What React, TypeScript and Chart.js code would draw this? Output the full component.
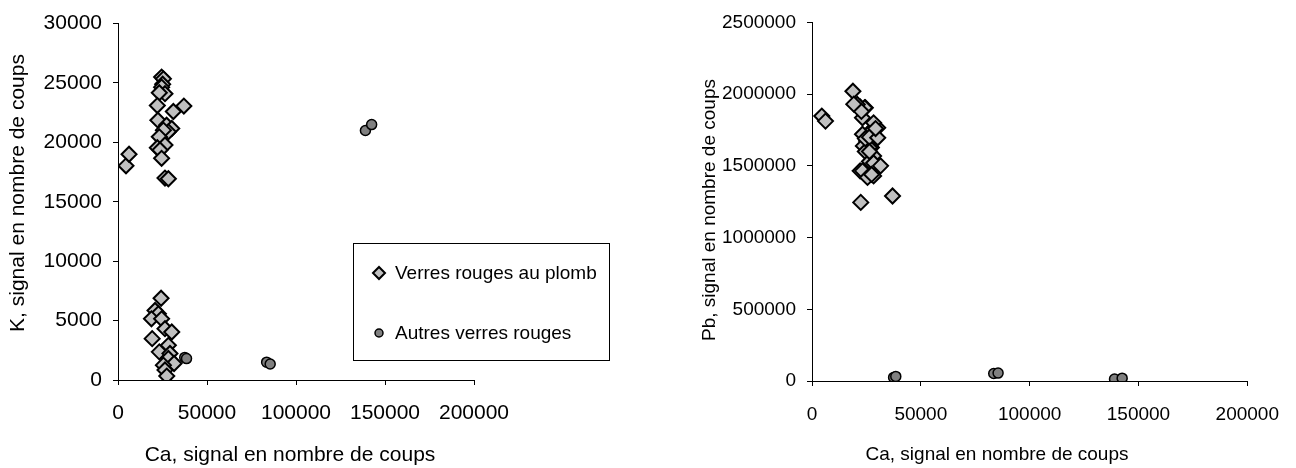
import React, { useEffect, useRef } from "react";
import { Chart, registerables } from "chart.js";

Chart.register(...registerables);

// Axis tick values
const caTicks = [0, 50000, 100000, 150000, 200000];
const kTicks = [0, 5000, 10000, 15000, 20000, 25000, 30000];
const pbTicks = [0, 500000, 1000000, 1500000, 2000000, 2500000];

// Verres rouges au plomb: Ca, K and Pb signals (same samples in both plots)
const leadCa = [
  24500, 25500, 25100, 24500, 26400, 23200, 22100, 31100, 37000, 22400,
  27300, 30200, 28300, 25500, 23200, 26400, 22100, 23600, 24500, 26400,
  28300, 4500, 6200, 24200, 20800, 22700, 18800, 24500, 26400, 30200,
  19200, 28300, 23200, 29200, 28300, 31500, 25500, 26400, 27400,
];
const leadK = [
  25500, 25350, 24900, 24650, 24100, 24180, 23100, 22600, 23060, 21870,
  21450, 21170, 20890, 21030, 20470, 19780, 19550, 19360, 18660, 17000,
  16940, 18030, 19000, 6880, 5850, 5570, 5150, 5150, 4320, 4040,
  3480, 2920, 2370, 2230, 1810, 1390, 1250, 840, 330,
];
const leadPb = [
  1905000, 1720000, 1673000, 1450000, 1731000, 1835000, 1910000, 1500000, 1290000, 1245000,
  1627000, 1766000, 1569000, 1639000, 1720000, 1627000, 1465000, 1639000, 1600000, 1530000,
  1430000, 1847000, 1812000, 1905000, 1928000, 1880000, 2020000, 1690000, 1700000, 1696000,
  1930000, 1800000, 1465000, 1760000, 1520000, 1500000, 1419000, 1600000, 1440000,
];

// Autres verres rouges
const otherCa = [37500, 38500, 83500, 85500, 139000, 142500];
const otherK = [1900, 1800, 1500, 1350, 21000, 21500];
const otherPb = [25000, 32000, 52000, 55000, 14000, 20000];

const FONT = '"Liberation Sans", Arial, Helvetica, sans-serif';
const LEAD_LABEL = "Verres rouges au plomb";
const OTHER_LABEL = "Autres verres rouges";
const X_TITLE = "Ca, signal en nombre de coups";

const leadStyle = {
  pointStyle: "rectRot",
  pointRadius: 7.5,
  pointHoverRadius: 7.5,
  pointBackgroundColor: "#C0C0C0",
  pointBorderColor: "#000000",
  pointBorderWidth: 2,
};
const otherStyle = {
  pointStyle: "circle",
  pointRadius: 5,
  pointHoverRadius: 5,
  pointBackgroundColor: "#808080",
  pointBorderColor: "#000000",
  pointBorderWidth: 1.5,
};

// Draws the rotated y title and the x title beneath the axis
const axisTitlesPlugin = {
  id: "axisTitles",
  afterDraw(chart: any, _args: any, opts: any) {
    const ctx = chart.ctx;
    ctx.save();
    ctx.fillStyle = "#000";
    ctx.textAlign = "center";
    ctx.textBaseline = "alphabetic";
    ctx.font = `${opts.xSize}px ${FONT}`;
    ctx.fillText(opts.xText, opts.xCenter, opts.xBaseline);
    ctx.font = `${opts.ySize}px ${FONT}`;
    ctx.translate(opts.yCenterX, opts.yCenterY);
    ctx.rotate(-Math.PI / 2);
    ctx.textBaseline = "middle";
    ctx.fillText(opts.yText, 0, 0);
    ctx.restore();
  },
};

// Boxed legend placed inside the plot area
const boxLegendPlugin = {
  id: "boxLegend",
  afterDraw(chart: any, _args: any, opts: any) {
    if (!opts || !opts.show) return;
    const ctx = chart.ctx;
    const { left, top, width, height } = opts;
    ctx.save();
    ctx.fillStyle = "#fff";
    ctx.fillRect(left, top, width, height);
    ctx.strokeStyle = "#000";
    ctx.lineWidth = 1;
    ctx.strokeRect(left + 0.5, top + 0.5, width, height);
    ctx.font = `19px ${FONT}`;
    ctx.textBaseline = "middle";
    ctx.textAlign = "left";
    chart.data.datasets.forEach((ds: any, i: number) => {
      const cy = top + opts.firstRow + i * opts.rowGap;
      const cx = left + 26;
      ctx.fillStyle = ds.pointBackgroundColor;
      ctx.strokeStyle = ds.pointBorderColor;
      ctx.lineWidth = ds.pointStyle === "rectRot" ? 2 : 1.5;
      ctx.beginPath();
      if (ds.pointStyle === "rectRot") {
        const r = 6;
        ctx.moveTo(cx - r, cy);
        ctx.lineTo(cx, cy - r);
        ctx.lineTo(cx + r, cy);
        ctx.lineTo(cx, cy + r);
        ctx.closePath();
      } else {
        ctx.arc(cx, cy, 4, 0, Math.PI * 2);
      }
      ctx.fill();
      ctx.stroke();
      ctx.fillStyle = "#000";
      ctx.fillText(ds.label, cx + 16, cy + 1);
    });
    ctx.restore();
  },
};

function makeScale(
  ticks: number[],
  max: number,
  isX: boolean,
  fitSize: number,
  pad: number,
  fontSize: number
) {
  return {
    type: "linear",
    min: 0,
    max,
    afterBuildTicks: (s: any) => {
      s.ticks = ticks.map((value) => ({ value }));
    },
    afterFit: (s: any) => {
      if (isX) s.height = fitSize;
      else s.width = fitSize;
    },
    ticks: {
      callback: (v: any) => String(v),
      color: "#000",
      font: { family: FONT, size: fontSize },
      padding: pad,
      maxRotation: 0,
      autoSkip: false,
    },
    grid: {
      display: true,
      drawOnChartArea: false,
      drawTicks: true,
      tickLength: 5,
      color: "#000",
    },
    border: { display: true, color: "#000", width: 1 },
    title: { display: false },
  };
}

function ScatterPanel(props: {
  yValues: number[];
  otherY: number[];
  yTicks: number[];
  yMax: number;
  leftEdge: number;
  rightPad: number;
  bottom: number;
  tickSize: number;
  xPad: number;
  titles: any;
  legend: any;
  offset: number;
}) {
  const ref = useRef<HTMLCanvasElement | null>(null);
  useEffect(() => {
    if (!ref.current) return;
    const chart = new Chart(ref.current, {
      type: "scatter",
      data: {
        datasets: [
          {
            label: LEAD_LABEL,
            data: leadCa.map((x, i) => ({ x, y: props.yValues[i] })),
            ...leadStyle,
          } as any,
          {
            label: OTHER_LABEL,
            data: otherCa.map((x, i) => ({ x, y: props.otherY[i] })),
            ...otherStyle,
          } as any,
        ],
      },
      options: {
        responsive: false,
        animation: false,
        devicePixelRatio: 1,
        layout: { padding: { left: 0, top: 21, right: props.rightPad, bottom: 0 } },
        scales: {
          x: makeScale(caTicks, 200000, true, 468 - 21 - props.bottom, props.xPad, props.tickSize) as any,
          y: makeScale(props.yTicks, props.yMax, false, props.leftEdge, 11, props.tickSize) as any,
        },
        plugins: {
          legend: { display: false },
          tooltip: { enabled: false },
          axisTitles: props.titles,
          boxLegend: props.legend,
        } as any,
      },
      plugins: [axisTitlesPlugin, boxLegendPlugin],
    });
    return () => chart.destroy();
  }, []);
  return (
    <canvas
      ref={ref}
      width={648}
      height={468}
      style={{ position: "absolute", left: props.offset, top: 0, width: 648, height: 468 }}
    />
  );
}

export default function App() {
  return (
    <div
      style={{
        position: "fixed",
        left: 0,
        top: 0,
        width: 1296,
        height: 468,
        background: "#fff",
        overflow: "hidden",
      }}
    >
      <ScatterPanel
        yValues={leadK}
        otherY={otherK}
        yTicks={kTicks}
        yMax={30000}
        leftEdge={118}
        rightPad={648 - 474}
        bottom={380 - 21}
        tickSize={21}
        xPad={16}
        offset={0}
        titles={{
          xText: X_TITLE,
          xSize: 21,
          xCenter: 290,
          xBaseline: 461,
          yText: "K, signal en nombre de coups",
          ySize: 21,
          yCenterX: 18,
          yCenterY: 193,
        }}
        legend={{ show: true, left: 353, top: 243, width: 256, height: 117, firstRow: 30, rowGap: 60 }}
      />
      <ScatterPanel
        yValues={leadPb}
        otherY={otherPb}
        yTicks={pbTicks}
        yMax={2500000}
        leftEdge={812 - 648}
        rightPad={648 - (1261 - 648)}
        bottom={381 - 21}
        tickSize={19}
        xPad={17}
        offset={648}
        titles={{
          xText: X_TITLE,
          xSize: 19,
          xCenter: 997 - 648,
          xBaseline: 460,
          yText: "Pb, signal en nombre de coups",
          ySize: 19,
          yCenterX: 710 - 648,
          yCenterY: 210,
        }}
        legend={{ show: false }}
      />
    </div>
  );
}
